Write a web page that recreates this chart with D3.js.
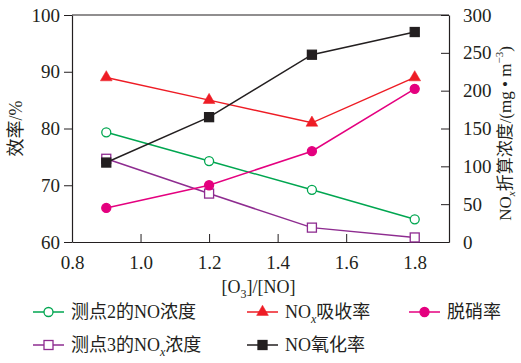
<!DOCTYPE html>
<html>
<head>
<meta charset="utf-8">
<script src="https://d3js.org/d3.v7.min.js"></script>
<style>
  body { margin: 0; background: #fff; }
  text { font-family: "Liberation Serif", "Noto Sans CJK SC", serif; fill: #231f20; }
</style>
</head>
<body>
<div id="chart"></div>
<script>
const ratios = [0.9, 1.2, 1.5, 1.8];
const xTicks = [0.8, 1.0, 1.2, 1.4, 1.6, 1.8];
const leftTicks = [60, 70, 80, 90, 100];
const rightTicks = [0, 50, 100, 150, 200, 250, 300];

// left axis (%)
const absorbRate = [89, 85, 81, 89];     // NOx吸收率
const denitroRate = [66, 70, 76, 87];    // 脱硝率
const oxidRate = [74, 82, 93, 97];       // NO氧化率
// right axis (mg/m3)
const no2Conc = [145, 107, 69, 30];      // 测点2的NO浓度
const nox3Conc = [110, 64, 19, 6];       // 测点3的NOx浓度

const width = 521, height = 363;
const margin = { top: 15, right: 72, bottom: 121, left: 72 };
const w = width - margin.left - margin.right;
const h = height - margin.top - margin.bottom;

const svg = d3.select("#chart").append("svg")
  .attr("width", width).attr("height", height);
const g = svg.append("g").attr("transform", `translate(${margin.left},${margin.top})`);

const x = d3.scaleLinear().domain([0.8, 1.9]).range([0, w]);
const yL = d3.scaleLinear().domain([60, 100]).range([h, 0]);
const yR = d3.scaleLinear().domain([0, 300]).range([h, 0]);

const axisColor = "#231f20";
const fs = "18px";

// frame top
g.append("line").attr("x1", 0).attr("x2", w).attr("y1", 0).attr("y2", 0)
  .attr("stroke", axisColor).attr("stroke-width", 1.2);

const xAxis = g.append("g").attr("transform", `translate(0,${h})`)
  .call(d3.axisBottom(x).tickValues(xTicks).tickFormat(d3.format(".1f"))
    .tickSizeInner(-8).tickSizeOuter(0).tickPadding(14));
const lAxis = g.append("g")
  .call(d3.axisLeft(yL).tickValues(leftTicks).tickSizeInner(8).tickSizeOuter(0).tickPadding(4));
const rAxis = g.append("g").attr("transform", `translate(${w},0)`)
  .call(d3.axisRight(yR).tickValues(rightTicks).tickSizeInner(-8).tickSizeOuter(0).tickPadding(14));

[xAxis, lAxis, rAxis].forEach(a => {
  a.select(".domain").attr("stroke", axisColor).attr("stroke-width", 1.2);
  a.selectAll(".tick line").attr("stroke", axisColor).attr("stroke-width", 1);
  a.selectAll(".tick text").style("font-size", "19px").attr("fill", axisColor);
});
rAxis.selectAll(".tick").filter(d => d === 0).select("line").remove();

// axis titles
g.append("text")
  .attr("transform", `translate(${-54},${yL(80)}) rotate(-90)`)
  .attr("text-anchor", "middle").attr("dominant-baseline", "middle")
  .style("font-size", fs).text("效率/%");

const rt = g.append("text")
  .attr("transform", `translate(${w + 58},${h / 2 + 5}) rotate(-90)`)
  .attr("text-anchor", "middle").attr("dominant-baseline", "middle")
  .style("font-size", "17px");
rt.append("tspan").text("NO");
rt.append("tspan").attr("dy", 5).style("font-size", "11px").style("font-style", "italic").text("x");
rt.append("tspan").attr("dy", -5).text("折算浓度/(mg • m");
rt.append("tspan").attr("dy", -7).style("font-size", "11px").text("−3");
rt.append("tspan").attr("dy", 7).text(")");

const xt = g.append("text")
  .attr("x", w / 2 - 2).attr("y", h + 51)
  .attr("text-anchor", "middle").style("font-size", fs);
xt.append("tspan").text("[O");
xt.append("tspan").attr("dy", 5).style("font-size", "12px").text("3");
xt.append("tspan").attr("dy", -5).text("]/[NO]");

// series
const series = [
  { name: "no2", vals: no2Conc, y: yR, color: "#00a650", marker: "circle", fill: "#fff" },
  { name: "nox3", vals: nox3Conc, y: yR, color: "#8e2c90", marker: "square", fill: "#fff" },
  { name: "absorb", vals: absorbRate, y: yL, color: "#ee1c25", marker: "triangle", fill: "#ee1c25" },
  { name: "denitro", vals: denitroRate, y: yL, color: "#e4007f", marker: "circle", fill: "#e4007f" },
  { name: "oxid", vals: oxidRate, y: yL, color: "#231f20", marker: "square", fill: "#231f20" }
];

function drawMarker(sel, s, cx, cy) {
  if (s.marker === "circle") {
    sel.append("circle").attr("cx", cx).attr("cy", cy).attr("r", 4.5)
      .attr("fill", s.fill).attr("stroke", s.color).attr("stroke-width", 1.3);
  } else if (s.marker === "square") {
    sel.append("rect").attr("x", cx - 4.5).attr("y", cy - 4.5).attr("width", 9).attr("height", 9)
      .attr("fill", s.fill).attr("stroke", s.color).attr("stroke-width", 1.3);
  } else {
    sel.append("path").attr("transform", `translate(${cx},${cy})`)
      .attr("d", d3.symbol(d3.symbolTriangle, 60)())
      .attr("fill", s.fill).attr("stroke", s.color).attr("stroke-width", 0.5);
  }
}

series.forEach(s => {
  const pts = ratios.map((r, i) => [x(r), s.y(s.vals[i])]);
  g.append("path").datum(pts)
    .attr("d", d3.line())
    .attr("fill", "none").attr("stroke", s.color).attr("stroke-width", 1.5);
  const mg = g.append("g");
  pts.forEach(p => drawMarker(mg, s, p[0], p[1]));
});

// legend
const bySeries = Object.fromEntries(series.map(s => [s.name, s]));
const legendItems = [
  { s: "no2", x: 33, y: 318, label: ["测点2的NO浓度"] },
  { s: "absorb", x: 247, y: 318, label: ["NO", "x", "吸收率"] },
  { s: "denitro", x: 409, y: 318, label: ["脱硝率"] },
  { s: "nox3", x: 33, y: 351, label: ["测点3的NO", "x", "浓度"] },
  { s: "oxid", x: 247, y: 351, label: ["NO氧化率"] }
];
const lg = svg.append("g");
legendItems.forEach(it => {
  const s = bySeries[it.s];
  lg.append("line").attr("x1", it.x).attr("x2", it.x + 31).attr("y1", it.y - 6).attr("y2", it.y - 6)
    .attr("stroke", s.color).attr("stroke-width", 1.5);
  drawMarker(lg, s, it.x + 15.5, it.y - 6);
  const t = lg.append("text").attr("x", it.x + 38).attr("y", it.y).style("font-size", fs);
  if (it.label.length === 1) {
    t.text(it.label[0]);
  } else {
    t.append("tspan").text(it.label[0]);
    t.append("tspan").attr("dy", 5).style("font-size", "12px").style("font-style", "italic").text(it.label[1]);
    t.append("tspan").attr("dy", -5).text(it.label[2]);
  }
});
</script>
</body>
</html>
